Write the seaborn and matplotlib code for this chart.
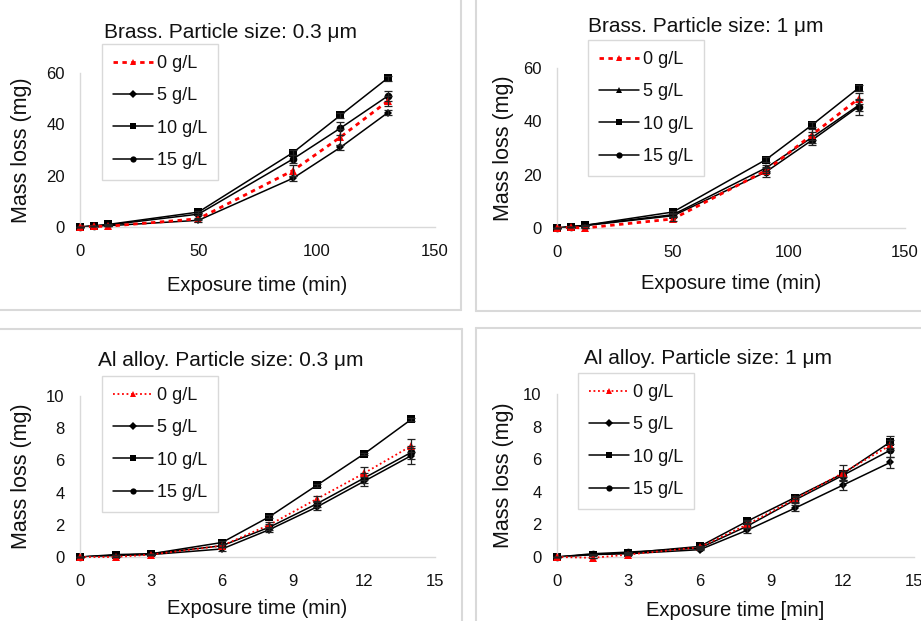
import numpy as np
import pandas as pd
import matplotlib
matplotlib.use('Agg')
import matplotlib.pyplot as plt
import matplotlib.ticker as ticker
from matplotlib.lines import Line2D
import seaborn as sns

# ---- data ----
brass_t = [0, 6, 12, 50, 90, 110, 130]
al_t = [0, 1.5, 3, 6, 8, 10, 12, 14]
labels = ['0 g/L', '5 g/L', '10 g/L', '15 g/L']

b03_0 = [0, 0.2, 0.3, 3.2, 22, 35, 49]
b03_0_err = [0, 0, 0, 0.5, 2, 3, 2]
b03_5 = [0, 0.3, 0.5, 2.6, 19, 31, 44.5]
b03_5_err = [0, 0, 0, 0.5, 1, 1, 1]
b03_10 = [0, 0.5, 1.0, 5.8, 29, 43.5, 58]
b03_10_err = [0, 0, 0, 0.5, 1, 1, 1]
b03_15 = [0, 0.4, 0.8, 5.0, 26.5, 38.5, 51]
b03_15_err = [0, 0, 0, 0.5, 1.5, 2.5, 2]

b1_0 = [0, 0.2, 0, 3.4, 21.5, 35, 48.5]
b1_0_err = [0, 0, 0, 0.8, 1, 2, 2]
b1_5 = [0, 0.5, 1, 5, 22.5, 34, 46]
b1_5_err = [0, 0, 0, 0.5, 1, 2, 2]
b1_10 = [0, 0.5, 1, 6, 25.6, 38.7, 52.5]
b1_10_err = [0, 0, 0, 0.5, 1, 1, 1]
b1_15 = [0, 0.4, 0.9, 4.6, 21, 33, 45.5]
b1_15_err = [0, 0, 0, 0.5, 2, 2, 3]

a03_0 = [0, 0, 0.15, 0.7, 2.0, 3.6, 5.2, 6.9]
a03_0_err = [0, 0, 0, 0.1, 0.2, 0.2, 0.4, 0.4]
a03_5 = [0, 0.1, 0.15, 0.5, 1.7, 3.1, 4.7, 6.3]
a03_5_err = [0, 0, 0, 0.1, 0.15, 0.2, 0.3, 0.5]
a03_10 = [0, 0.1, 0.2, 0.9, 2.5, 4.45, 6.4, 8.55]
a03_10_err = [0, 0, 0, 0.1, 0.1, 0.1, 0.05, 0.1]
a03_15 = [0, 0.15, 0.2, 0.7, 1.85, 3.3, 4.9, 6.5]
a03_15_err = [0, 0, 0, 0.1, 0.2, 0.2, 0.3, 0.4]

a1_0 = [0, -0.05, 0.15, 0.6, 2.0, 3.55, 5.15, 6.85]
a1_0_err = [0, 0, 0, 0.05, 0.2, 0.2, 0.5, 0.3]
a1_5 = [0, 0.15, 0.2, 0.45, 1.65, 3.0, 4.4, 5.8]
a1_5_err = [0, 0, 0, 0.05, 0.15, 0.2, 0.3, 0.35]
a1_10 = [0, 0.15, 0.25, 0.65, 2.2, 3.65, 5.1, 7.05]
a1_10_err = [0, 0, 0, 0.05, 0.1, 0.1, 0.2, 0.35]
a1_15 = [0, 0.2, 0.3, 0.55, 1.9, 3.5, 5.0, 6.55]
a1_15_err = [0, 0, 0, 0.05, 0.15, 0.2, 0.3, 0.4]

sns.set_theme(style='white')
plt.rcParams['font.family'] = ['Liberation Sans', 'DejaVu Sans']

W, H = 921, 621
GRAY = '#d9d9d9'
TXT = '#111111'
fig = plt.figure(figsize=(W / 100, H / 100), dpi=100)
fig.patch.set_facecolor('white')


def px_axes(l, t, r, b):
	return fig.add_axes([l / W, 1 - b / H, (r - l) / W, (b - t) / H])


def fig_line(x0, y0, x1, y1):
	fig.add_artist(Line2D([x0 / W, x1 / W], [1 - y0 / H, 1 - y1 / H], color=GRAY, lw=1.5))


def panel(ax, t, ys, errs, markers, red_dash, red_lw, xmax, xmaj, xmin, ymax, ymaj, ymin, xlabel):
	for i in range(4):
		df = pd.DataFrame({'t': t, 'm': ys[i]})
		if i == 0:
			sns.lineplot(data=df, x='t', y='m', ax=ax, color='#ff0000', lw=red_lw, linestyle=(0, red_dash),
				marker='^', markersize=6, markeredgewidth=0, errorbar=None, label=labels[i],
				clip_on=False, zorder=3)
		else:
			sns.lineplot(data=df, x='t', y='m', ax=ax, color='black', lw=1.1, marker=markers[i],
				markersize=5.5 if markers[i] != 'D' else 4.5, markeredgewidth=0, errorbar=None,
				label=labels[i], clip_on=False, zorder=2)
		ax.errorbar(t, ys[i], yerr=errs[i], fmt='none', ecolor='#222222', elinewidth=0.9,
			capsize=3, capthick=0.9, zorder=4, clip_on=False)
	ax.set_xlim(0, xmax)
	ax.set_ylim(0, ymax)
	ax.xaxis.set_major_locator(ticker.MultipleLocator(xmaj))
	ax.xaxis.set_minor_locator(ticker.MultipleLocator(xmin))
	ax.yaxis.set_major_locator(ticker.MultipleLocator(ymaj))
	ax.yaxis.set_minor_locator(ticker.MultipleLocator(ymin))
	ax.tick_params(which='both', direction='in', length=4, width=0.8, color=GRAY,
		labelsize=12, labelcolor=TXT, pad=12)
	ax.tick_params(axis='y', which='both', pad=11)
	for s in ['top', 'right']:
		ax.spines[s].set_visible(False)
	for s in ['left', 'bottom']:
		ax.spines[s].set_color(GRAY)
		ax.spines[s].set_linewidth(1.0)
	ax.set_facecolor('none')
	ax.set_xlabel(xlabel, fontsize=14.5, color=TXT, va='center')
	ax.set_ylabel('Mass loss (mg)', fontsize=15.5, color=TXT, va='center')


# frames
fig_line(461, 0, 461, 310)
fig_line(0, 310, 461, 310)
fig_line(476, 0, 476, 311)
fig_line(476, 311, 921, 311)
fig_line(0, 329, 462, 329)
fig_line(462, 329, 462, 621)
fig_line(476, 328, 921, 328)
fig_line(476, 328, 476, 621)

dash_b = (1.6, 1.6)
dot_a = (1, 1.5)

ax1 = px_axes(80, 73, 435, 227)
panel(ax1, brass_t, [b03_0, b03_5, b03_10, b03_15], [b03_0_err, b03_5_err, b03_10_err, b03_15_err],
	[None, 'D', 's', 'o'], dash_b, 2.0, 150, 50, 10, 60, 20, 10, 'Exposure time (min)')
ax2 = px_axes(557, 68, 905, 228)
panel(ax2, brass_t, [b1_0, b1_5, b1_10, b1_15], [b1_0_err, b1_5_err, b1_10_err, b1_15_err],
	[None, '^', 's', 'o'], dash_b, 2.0, 150, 50, 10, 60, 20, 10, 'Exposure time (min)')
ax3 = px_axes(80, 396, 435, 557)
panel(ax3, al_t, [a03_0, a03_5, a03_10, a03_15], [a03_0_err, a03_5_err, a03_10_err, a03_15_err],
	[None, 'D', 's', 'o'], dot_a, 1.3, 15, 3, 1, 10, 2, 1, 'Exposure time (min)')
ax4 = px_axes(557, 394, 914, 557)
panel(ax4, al_t, [a1_0, a1_5, a1_10, a1_15], [a1_0_err, a1_5_err, a1_10_err, a1_15_err],
	[None, 'D', 's', 'o'], dot_a, 1.3, 15, 3, 1, 10, 2, 1, 'Exposure time [min]')

# axis label positions
for ax, xl, yl in [(ax1, 22, 285), (ax2, 503, 283), (ax3, 22, 608), (ax4, 503, 610)]:
	bb = ax.get_position()
	ax.yaxis.set_label_coords((xl / W - bb.x0) / bb.width, 0.5)
	ax.xaxis.set_label_coords(0.5, ((1 - yl / H) - bb.y0) / bb.height)

# titles
fig.text(230 / W, 1 - 32 / H, 'Brass. Particle size: 0.3 μm', ha='center', va='center', fontsize=15, color=TXT)
fig.text(706 / W, 1 - 27 / H, 'Brass. Particle size: 1 μm', ha='center', va='center', fontsize=15, color=TXT)
fig.text(231 / W, 1 - 361 / H, 'Al alloy. Particle size: 0.3 μm', ha='center', va='center', fontsize=15, color=TXT)
fig.text(708 / W, 1 - 359 / H, 'Al alloy. Particle size: 1 μm', ha='center', va='center', fontsize=15, color=TXT)

# legends
for ax, l, t in [(ax1, 102, 44), (ax2, 588, 40), (ax3, 102, 376), (ax4, 578, 373)]:
	lg = ax.legend(loc='upper left', bbox_to_anchor=(l / W, 1 - t / H), bbox_transform=fig.transFigure,
		fontsize=13, frameon=True, fancybox=False, edgecolor=GRAY, framealpha=1,
		handlelength=2.2, handletextpad=0.25, labelspacing=0.85, borderpad=0.6, borderaxespad=0)
	lg.get_frame().set_linewidth(1.0)
	for h in lg.legend_handles:
		h.set_markersize(4.5)
	for txt in lg.get_texts():
		txt.set_color(TXT)

fig.savefig('out.png', dpi=100)
